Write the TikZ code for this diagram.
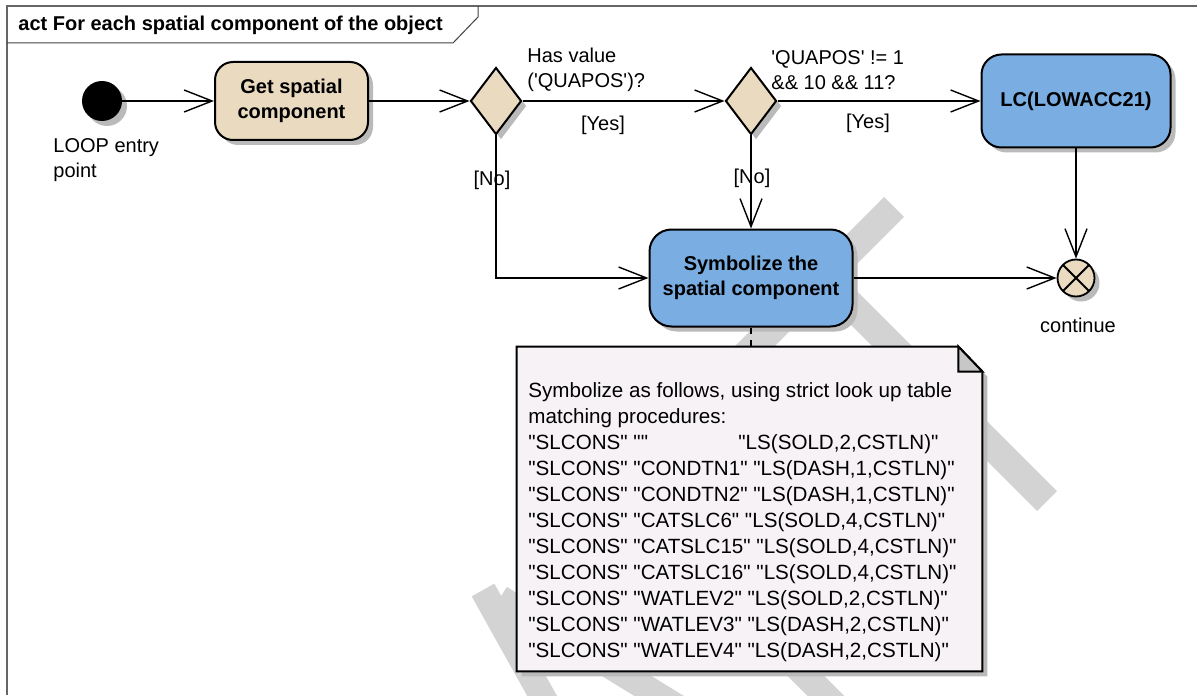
\documentclass[tikz,border=0pt]{standalone}
\usepackage{fontspec}
\setmainfont{Liberation Sans}[Ligatures=TeXOff]
\usepackage{xcolor}
\usepackage{tikz}
\usetikzlibrary{arrows.meta, shapes.geometric, shadows, calc}
\pgfdeclarelayer{bg}
\pgfsetlayers{bg,main}
\definecolor{actTan}{RGB}{233,218,192}
\definecolor{actBlue}{RGB}{122,173,226}
\definecolor{noteFill}{RGB}{246,242,246}
\definecolor{wmGray}{RGB}{211,211,211}

\begin{document}
\begin{tikzpicture}[x=0.5pt, y=-0.5pt, font=\fontsize{10}{12.5}\selectfont,
    shadowed/.style={drop shadow={shadow xshift=2.5pt, shadow yshift=-2.5pt, fill=black!27, opacity=1}},
    ctrlflow/.style={draw, line width=0.7pt, -{Straight Barb[length=14pt, width=11pt]}},
    action/.style={rectangle, draw, line width=1pt, rounded corners=9pt, align=center, font=\fontsize{10}{12.5}\selectfont\bfseries, shadowed},
    decision/.style={diamond, draw, line width=1pt, fill=actTan, minimum width=25.5pt, minimum height=33.5pt, inner sep=0, shadowed},
    initnode/.style={circle, fill=black, minimum size=20pt, inner sep=0, shadowed},
    flowfinal/.style={circle, draw, line width=0.9pt, fill=actTan, minimum size=18.5pt, inner sep=0, shadowed,
        path picture={\draw[line width=0.9pt]
            ([shift={(45:9.25pt)}]path picture bounding box.center) -- ([shift={(225:9.25pt)}]path picture bounding box.center)
            ([shift={(135:9.25pt)}]path picture bounding box.center) -- ([shift={(315:9.25pt)}]path picture bounding box.center);}},
    wmband/.style={draw=wmGray, line width=14pt},
    guard/.style={font=\fontsize{10}{12.5}\selectfont}]
    \useasboundingbox (0,0) rectangle (1197,695);

    \draw[black!60, line width=0.75pt] (7,695) -- (7,6) -- (1197,6);
    \draw[black!75, line width=0.5pt] (478,6) -- (478,17) -- (453,43) -- (7,43);
    \node[anchor=west, font=\fontsize{10}{12.5}\selectfont\bfseries, inner sep=0] (title) at (18,25) {act For each spatial component of the object};

    \node[initnode] (start) at (102,101) {};
    \node[anchor=west, align=left, inner sep=0] (startlbl) at (53,160) {LOOP entry\\point};
    \node[action, fill=actTan, minimum width=76.5pt, minimum height=39pt] (get) at (291.5,101) {Get spatial\\component};
    \node[decision] (d1) at (496,101) {};
    \node[decision] (d2) at (751,101) {};
    \node[action, fill=actBlue, minimum width=94.5pt, minimum height=46.5pt, rounded corners=10pt] (lc) at (1076,101) {LC(LOWACC21)};
    \node[action, fill=actBlue, minimum width=101.5pt, minimum height=48.5pt, rounded corners=11pt] (sym) at (751,278) {Symbolize the\\spatial component};
    \node[flowfinal] (cont) at (1076,278) {};
    \node[inner sep=0] (contlbl) at (1078,325) {continue};

    \node[anchor=west, align=left, inner sep=0] (q1) at (527,70) {Has value\\(\textquotesingle QUAPOS\textquotesingle)?};
    \node[inner sep=0] (yes1) at (603,125) {[Yes]};
    \node[inner sep=0] (no1) at (492,180) {[No]};
    \node[anchor=west, align=left, inner sep=0] (q2) at (771,70) {'QUAPOS' != 1\\\&\& 10 \&\& 11?};
    \node[inner sep=0] (yes2) at (868,123) {[Yes]};
    \node[inner sep=0] (no2) at (752,178) {[No]};

    \node[minimum width=232.5pt, minimum height=162pt, inner sep=0] (note) at (749.5,509) {};
    \node[anchor=north west, align=left, inner sep=0, font=\fontsize{10.3}{13}\selectfont] (notetext) at (528,382) {%
        Symbolize as follows, using strict look up table\\
        matching procedures:\\
        \makebox[105pt][l]{"SLCONS" ""}"LS(SOLD,2,CSTLN)"\\
        "SLCONS" "CONDTN1" "LS(DASH,1,CSTLN)"\\
        "SLCONS" "CONDTN2" "LS(DASH,1,CSTLN)"\\
        "SLCONS" "CATSLC6" "LS(SOLD,4,CSTLN)"\\
        "SLCONS" "CATSLC15" "LS(SOLD,4,CSTLN)"\\
        "SLCONS" "CATSLC16" "LS(SOLD,4,CSTLN)"\\
        "SLCONS" "WATLEV2" "LS(SOLD,2,CSTLN)"\\
        "SLCONS" "WATLEV3" "LS(DASH,2,CSTLN)"\\
        "SLCONS" "WATLEV4" "LS(DASH,2,CSTLN)"};

    \begin{pgfonlayer}{bg}
        \begin{scope}
            \clip (0,0) rectangle (1197,695);
            \draw[wmband] (894,207) -- (690,411);
            \draw[wmband] (800,254) -- (1047,501);
            \draw[wmband, line width=13pt] (483,590) -- (550,710);
            \draw[wmband, line width=13pt] (500,598) -- (690,715);
            \draw[wmband, line width=13pt] (785,655) -- (845,715);
        \end{scope}
        \filldraw[fill=noteFill, line width=1pt, shadowed] (note.south west) -- (note.north west) -- ([xshift=-12pt]note.north east)
            -- ([yshift=-12.5pt]note.north east) -- (note.south east) -- cycle;
        \filldraw[fill=black!22, line width=1pt] ([xshift=-12pt]note.north east) -- ([xshift=-12pt, yshift=-12.5pt]note.north east)
            -- ([yshift=-12.5pt]note.north east) -- cycle;
    \end{pgfonlayer}

    \draw[ctrlflow] (start) -- (get);
    \draw[ctrlflow] (get) -- (d1);
    \draw[ctrlflow] (d1) -- (d2);
    \draw[ctrlflow] (d2) -- (lc);
    \draw[ctrlflow] (d1) |- (sym);
    \draw[ctrlflow] (d2) -- (sym);
    \draw[ctrlflow] (sym) -- (cont);
    \draw[ctrlflow] (lc) -- (cont);
    \draw[dashed, line width=0.7pt] (sym.south) -- (sym.south |- note.north);
\end{tikzpicture}
\end{document}
